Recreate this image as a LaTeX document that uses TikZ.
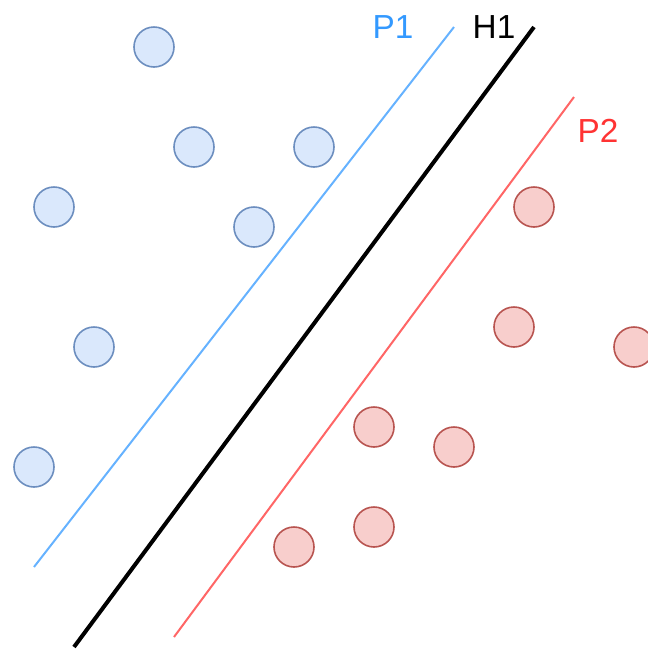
\documentclass[tikz,border=0pt]{standalone}
\usepackage{fontspec}
\setmainfont{Liberation Sans}
\definecolor{bluefill}{HTML}{DAE8FC}
\definecolor{bluedraw}{HTML}{6C8EBF}
\definecolor{redfill}{HTML}{F8CECC}
\definecolor{reddraw}{HTML}{B85450}
\definecolor{pone}{HTML}{66B2FF}
\definecolor{ptwo}{HTML}{FF6666}
\definecolor{ponetext}{HTML}{3399FF}
\definecolor{ptwotext}{HTML}{FF3333}
\tikzset{
  bluept/.style={circle, draw=bluedraw, fill=bluefill, line width=1.2pt, minimum size=30pt, inner sep=0pt},
  redpt/.style={circle, draw=reddraw, fill=redfill, line width=1.2pt, minimum size=30pt, inner sep=0pt},
  lbl/.style={font=\fontsize{25}{30}\selectfont, inner sep=0pt}
}
\begin{document}
\begin{tikzpicture}[x=0.75pt, y=-0.75pt]
\useasboundingbox (0,0) rectangle (648,651);
\begin{scope}
\clip (0,0) rectangle (648,651);
  \foreach \x/\y [count=\i] in {154/47, 194/147, 314/147, 54/207, 254/227, 94/347, 34/467}
    \node[bluept] (b\i) at (\x,\y) {};
  \foreach \x/\y [count=\i] in {534/207, 514/327, 634/347, 374/427, 454/447, 374/527, 294/547}
    \node[redpt] (r\i) at (\x,\y) {};
\end{scope}
  \coordinate (p1a) at (34,567);
  \coordinate (p1b) at (454,27);
  \coordinate (h1a) at (74,647);
  \coordinate (h1b) at (534,27);
  \coordinate (p2a) at (174,637);
  \coordinate (p2b) at (574,97);
  \draw[pone, line width=1.5pt] (p1a) -- (p1b);
  \draw[black, line width=3pt] (h1a) -- (h1b);
  \draw[ptwo, line width=1.5pt] (p2a) -- (p2b);
  \node[lbl, text=ponetext] (P1) at (393,27) {P1};
  \node[lbl] (H1) at (494,27) {H1};
  \node[lbl, text=ptwotext] (P2) at (598,131) {P2};
\end{tikzpicture}
\end{document}
